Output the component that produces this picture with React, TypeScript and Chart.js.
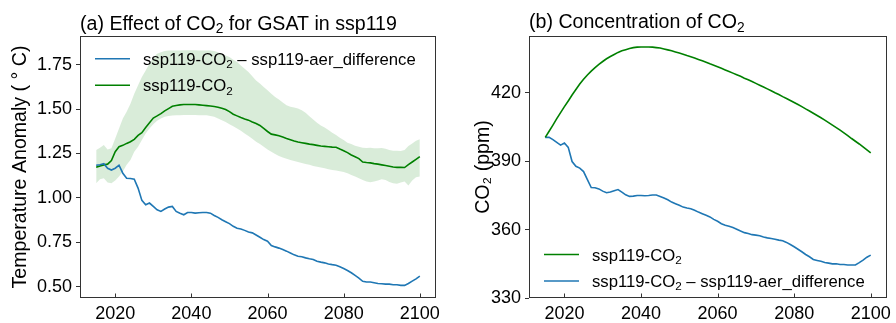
import React, { useEffect, useRef } from "react";
import { Chart, registerables } from "chart.js";

Chart.register(...registerables);

const FONT = "'Liberation Sans', Arial, sans-serif";
const TICK_SIZE = 18;
const LABEL_SIZE = 19.6;
const LEGEND_SIZE = 16.7;
const START_YEAR = 2015;

// (a) GSAT anomaly (°C), ensemble mean of ssp119-CO2 and its spread
const gsatCO2 = [
  1.172, 1.18, 1.186, 1.19, 1.21,
  1.26, 1.288, 1.296, 1.307, 1.316,
  1.33, 1.352, 1.367, 1.397, 1.423,
  1.45, 1.462, 1.475, 1.49, 1.503,
  1.516, 1.52, 1.524, 1.526, 1.526,
  1.526, 1.526, 1.524, 1.522, 1.52,
  1.518, 1.515, 1.511, 1.505, 1.498,
  1.486, 1.471, 1.462, 1.453, 1.445,
  1.438, 1.428, 1.419, 1.408, 1.391,
  1.374, 1.359, 1.355, 1.35, 1.343,
  1.335, 1.328, 1.32, 1.315, 1.311,
  1.307, 1.303, 1.3, 1.296, 1.292,
  1.29, 1.288, 1.286, 1.285, 1.275,
  1.266, 1.255, 1.242, 1.232, 1.221,
  1.202, 1.199, 1.197, 1.193, 1.19,
  1.186, 1.182, 1.178, 1.174, 1.172,
  1.172, 1.171, 1.187, 1.202, 1.217,
  1.232,
];

const gsatCO2Upper = [
  1.27, 1.283, 1.298, 1.273, 1.279,
  1.335, 1.391, 1.447, 1.485, 1.531,
  1.587, 1.634, 1.681, 1.718, 1.756,
  1.789, 1.812, 1.821, 1.827, 1.83,
  1.83, 1.831, 1.831, 1.832, 1.832,
  1.832, 1.832, 1.831, 1.831, 1.83,
  1.83, 1.827, 1.821, 1.812, 1.802,
  1.793, 1.778, 1.765, 1.746, 1.728,
  1.709, 1.685, 1.662, 1.644, 1.625,
  1.606, 1.587, 1.569, 1.554, 1.537,
  1.522, 1.513, 1.509, 1.503, 1.494,
  1.479, 1.46, 1.442, 1.423, 1.408,
  1.397, 1.382, 1.367, 1.354, 1.339,
  1.326, 1.311, 1.304, 1.294, 1.288,
  1.283, 1.281, 1.283, 1.279, 1.279,
  1.281, 1.277, 1.27, 1.266, 1.266,
  1.264, 1.27, 1.292, 1.307, 1.322,
  1.33,
];

const gsatCO2Lower = [
  1.083, 1.105, 1.111, 1.086, 1.083,
  1.098, 1.12, 1.148, 1.186, 1.214,
  1.26, 1.288, 1.326, 1.363, 1.391,
  1.415, 1.434, 1.447, 1.457, 1.462,
  1.464, 1.466, 1.466, 1.467, 1.467,
  1.467, 1.467, 1.466, 1.466, 1.465,
  1.462, 1.457, 1.447, 1.438, 1.428,
  1.415, 1.404, 1.391, 1.378, 1.363,
  1.348, 1.333, 1.316, 1.303, 1.288,
  1.273, 1.26, 1.247, 1.236, 1.228,
  1.221, 1.214, 1.208, 1.202, 1.197,
  1.191, 1.186, 1.18, 1.176, 1.171,
  1.167, 1.161, 1.157, 1.154, 1.15,
  1.146, 1.139, 1.129, 1.12, 1.111,
  1.101, 1.092, 1.088, 1.092, 1.098,
  1.105, 1.101, 1.09, 1.083, 1.079,
  1.086, 1.092, 1.07, 1.098, 1.116,
  1.12,
];

const gsatDiff = [
  1.184, 1.187, 1.193, 1.167, 1.157,
  1.167, 1.184, 1.139, 1.111, 1.109,
  1.105, 1.055, 0.986, 0.961, 0.971,
  0.952, 0.933, 0.924, 0.937, 0.948,
  0.952, 0.924, 0.914, 0.905, 0.918,
  0.918, 0.914, 0.916, 0.918, 0.918,
  0.914, 0.901, 0.89, 0.877, 0.866,
  0.855, 0.84, 0.829, 0.825, 0.817,
  0.808, 0.803, 0.791, 0.778, 0.765,
  0.756, 0.732, 0.724, 0.717, 0.709,
  0.7, 0.69, 0.679, 0.671, 0.668,
  0.662, 0.657, 0.653, 0.643, 0.638,
  0.634, 0.628, 0.624, 0.621, 0.612,
  0.602, 0.591, 0.578, 0.563, 0.548,
  0.53, 0.526, 0.526, 0.522, 0.518,
  0.516, 0.514, 0.514, 0.511, 0.511,
  0.507, 0.507, 0.518, 0.531, 0.544,
  0.559,
];

// (b) CO2 concentration (ppm)
const co2Conc = [
  400.5, 403.2, 405.9, 408.7, 411.4,
  414.0, 416.5, 419.1, 421.5, 423.9,
  426.0, 427.9, 429.6, 431.1, 432.5,
  433.8, 435.0, 436.0, 436.9, 437.8,
  438.5, 439.0, 439.5, 439.9, 440.1,
  440.2, 440.2, 440.2, 440.1, 439.9,
  439.7, 439.3, 438.9, 438.5, 438.0,
  437.5, 437.0, 436.4, 435.9, 435.3,
  434.7, 434.1, 433.5, 432.8, 432.2,
  431.5, 430.8, 430.1, 429.4, 428.7,
  428.0, 427.3, 426.5, 425.8, 425.0,
  424.2, 423.4, 422.6, 421.8, 421.0,
  420.1, 419.3, 418.4, 417.6, 416.7,
  415.8, 414.9, 414.0, 413.0, 412.1,
  411.1, 410.1, 409.1, 408.1, 407.0,
  405.9, 404.8, 403.7, 402.5, 401.3,
  400.0, 398.8, 397.6, 396.3, 395.0,
  393.7,
];

const co2Diff = [
  400.5, 400.5, 399.5, 398.3, 397.1,
  398.0, 396.1, 389.9, 387.8, 387.0,
  385.5, 382.0, 378.5, 378.4, 377.9,
  376.9, 376.2, 376.5, 377.1, 377.6,
  376.5, 375.3, 374.6, 374.7, 375.0,
  375.0, 374.9, 375.0, 375.2, 375.2,
  374.6, 373.9, 373.1, 372.1, 371.4,
  370.7, 369.9, 369.5, 369.2, 368.5,
  367.7, 367.0, 366.3, 365.6, 364.5,
  363.7, 362.6, 361.9, 361.5, 360.9,
  360.2, 359.4, 358.7, 358.3, 357.8,
  357.6, 357.3, 356.8, 356.4, 356.1,
  355.8, 355.4, 355.1, 354.4, 353.5,
  352.5, 351.4, 350.3, 349.1, 348.1,
  346.9, 346.5, 346.1, 345.6, 345.3,
  345.0, 345.0, 344.7, 344.7, 344.5,
  344.5, 344.5, 345.5, 346.6, 347.9,
  348.8,
];

const yearTicks = [2020, 2040, 2060, 2080, 2100];
const gsatTicks = [0.5, 0.75, 1.0, 1.25, 1.5, 1.75];
const co2Ticks = [330, 360, 390, 420];

const LABEL_CO2 = "ssp119-CO₂";
const LABEL_DIFF = "ssp119-CO₂ – ssp119-aer_difference";

const BLUE = "#1f77b4";
const GREEN = "#008000";
const BAND = "rgba(0,128,0,0.15)";
const SPINE = "#333333";

const years = gsatCO2.map((_, i) => START_YEAR + i);
const toPoints = (vals: number[]) => vals.map((v, i) => ({ x: years[i], y: v }));

// Draws a string whose "₂" characters are set as real subscripts.
function drawSubscripted(ctx: CanvasRenderingContext2D, text: string, x: number, y: number, size: number) {
  const parts = text.split("₂");
  let cx = x;
  parts.forEach((p, i) => {
    ctx.font = `${size}px ${FONT}`;
    ctx.fillText(p, cx, y);
    cx += ctx.measureText(p).width;
    if (i < parts.length - 1) {
      const s = size * 0.7;
      ctx.font = `${s}px ${FONT}`;
      ctx.fillText("2", cx, y + size * 0.2);
      cx += ctx.measureText("2").width;
    }
  });
}

// Frame, inward x ticks, panel title and in-axes legend.
const panelDecor = {
  id: "panelDecor",
  afterDraw(chart: any, _args: any, opts: any) {
    const { ctx, chartArea: a } = chart;
    ctx.save();
    ctx.strokeStyle = SPINE;
    ctx.lineWidth = 1;
    const l = Math.round(a.left) + 0.5;
    const t = Math.round(a.top) + 0.5;
    const r = Math.round(a.right) - 0.5;
    const b = Math.round(a.bottom) - 0.5;
    ctx.strokeRect(l, t, r - l, b - t);

    const xs = chart.scales.x;
    ctx.beginPath();
    xs.ticks.forEach((tk: any) => {
      const px = Math.round(xs.getPixelForValue(tk.value)) + 0.5;
      ctx.moveTo(px, b);
      ctx.lineTo(px, b - 4);
    });
    ctx.stroke();

    ctx.fillStyle = "#000";
    ctx.textAlign = "left";
    ctx.textBaseline = "alphabetic";
    drawSubscripted(ctx, opts.title, a.left, a.top + opts.titleDy, LABEL_SIZE);

    const items = chart.data.datasets.filter((d: any) => d.inLegend);
    const n = items.length;
    items.forEach((ds: any, k: number) => {
      const ly =
        opts.legendAt === "top"
          ? a.top + opts.legendDy + k * opts.legendRow
          : a.bottom - opts.legendDy - (n - 1 - k) * opts.legendRow;
      ctx.strokeStyle = ds.borderColor;
      ctx.lineWidth = ds.borderWidth;
      ctx.beginPath();
      ctx.moveTo(a.left + 15, ly);
      ctx.lineTo(a.left + 50, ly);
      ctx.stroke();
      ctx.fillStyle = "#000";
      drawSubscripted(ctx, ds.label, a.left + 63, ly + LEGEND_SIZE * 0.36, LEGEND_SIZE);
    });
    ctx.restore();
  },
};

const tickFont = { family: FONT, size: TICK_SIZE };
const labelFont = { family: FONT, size: LABEL_SIZE };

function makeConfig(p: {
  datasets: any[];
  yMin: number;
  yMax: number;
  yTicks: number[];
  yFmt: (v: number) => string;
  yTitle: string;
  yTitlePad: number;
  axisWidth: number;
  padRight: number;
  title: string;
  titleDy: number;
  legendAt: string;
  legendDy: number;
}) {
  return {
    type: "line",
    data: { datasets: p.datasets },
    plugins: [panelDecor],
    options: {
      responsive: false,
      animation: false,
      devicePixelRatio: 1,
      layout: { padding: { top: 36, right: p.padRight, bottom: 0, left: 0 } },
      elements: { point: { radius: 0 }, line: { tension: 0 } },
      plugins: {
        legend: { display: false },
        tooltip: { enabled: false },
        title: { display: false },
        panelDecor: {
          title: p.title,
          titleDy: p.titleDy,
          legendAt: p.legendAt,
          legendDy: p.legendDy,
          legendRow: 26.5,
        },
      },
      scales: {
        x: {
          type: "linear",
          min: 2010.75,
          max: 2104.25,
          grid: { display: false, drawTicks: false },
          border: { display: false },
          ticks: {
            font: tickFont,
            color: "#000",
            padding: 5,
            maxRotation: 0,
            autoSkip: false,
            callback: (v: number) => String(v),
          },
          afterBuildTicks: (s: any) => {
            s.ticks = yearTicks.map((v) => ({ value: v }));
          },
          afterFit: (s: any) => {
            s.height = 25;
            s.paddingLeft = 0;
            s.paddingRight = 0;
          },
        },
        y: {
          type: "linear",
          min: p.yMin,
          max: p.yMax,
          grid: { display: true, drawOnChartArea: false, drawTicks: true, tickLength: 4, color: SPINE, lineWidth: 1 },
          border: { display: false },
          ticks: {
            font: tickFont,
            color: "#000",
            padding: 4,
            autoSkip: false,
            callback: (v: number) => p.yFmt(v),
          },
          title: {
            display: true,
            text: p.yTitle,
            color: "#000",
            font: labelFont,
            padding: { top: p.yTitlePad, bottom: 0 },
          },
          afterBuildTicks: (s: any) => {
            s.ticks = p.yTicks.map((v) => ({ value: v }));
          },
          afterFit: (s: any) => {
            s.width = p.axisWidth;
            s.paddingTop = 0;
            s.paddingBottom = 0;
          },
        },
      },
    },
  } as any;
}

const lineSet = (label: string, vals: number[], color: string) => ({
  label,
  data: toPoints(vals),
  borderColor: color,
  backgroundColor: color,
  borderWidth: 1.6,
  pointRadius: 0,
  fill: false,
  inLegend: true,
});

export default function App() {
  const leftRef = useRef<HTMLCanvasElement>(null);
  const rightRef = useRef<HTMLCanvasElement>(null);

  useEffect(() => {
    document.body.style.margin = "0";
    const left = new Chart(
      leftRef.current!,
      makeConfig({
        datasets: [
          lineSet(LABEL_DIFF, gsatDiff, BLUE),
          lineSet(LABEL_CO2, gsatCO2, GREEN),
          {
            label: "ssp119-CO₂ range",
            data: toPoints(gsatCO2Upper),
            borderWidth: 0,
            borderColor: "rgba(0,0,0,0)",
            backgroundColor: BAND,
            pointRadius: 0,
            fill: "+1",
          },
          {
            label: "ssp119-CO₂ range (lower)",
            data: toPoints(gsatCO2Lower),
            borderWidth: 0,
            borderColor: "rgba(0,0,0,0)",
            pointRadius: 0,
            fill: false,
          },
        ],
        yMin: 0.436,
        yMax: 1.912,
        yTicks: gsatTicks,
        yFmt: (v) => v.toFixed(2),
        yTitle: "Temperature Anomaly ( ° C)",
        yTitlePad: 8.5,
        axisWidth: 80,
        padRight: 12,
        title: "(a) Effect of CO₂ for GSAT in ssp119",
        titleDy: -6.5,
        legendAt: "top",
        legendDy: 22.7,
      })
    );
    const right = new Chart(
      rightRef.current!,
      makeConfig({
        datasets: [lineSet(LABEL_CO2, co2Conc, GREEN), lineSet(LABEL_DIFF, co2Diff, BLUE)],
        yMin: 330,
        yMax: 445,
        yTicks: co2Ticks,
        yFmt: (v) => String(v),
        yTitle: "CO₂ (ppm)",
        yTitlePad: 23.5,
        axisWidth: 81,
        padRight: 9,
        title: "(b) Concentration of CO₂",
        titleDy: -8.3,
        legendAt: "bottom",
        legendDy: 17,
      })
    );
    return () => {
      left.destroy();
      right.destroy();
    };
  }, []);

  return (
    <div style={{ position: "relative", width: 896, height: 323, background: "#fff" }}>
      <canvas ref={leftRef} width={448} height={323} style={{ position: "absolute", left: 0, top: 0 }} />
      <canvas ref={rightRef} width={448} height={323} style={{ position: "absolute", left: 448, top: 0 }} />
    </div>
  );
}
